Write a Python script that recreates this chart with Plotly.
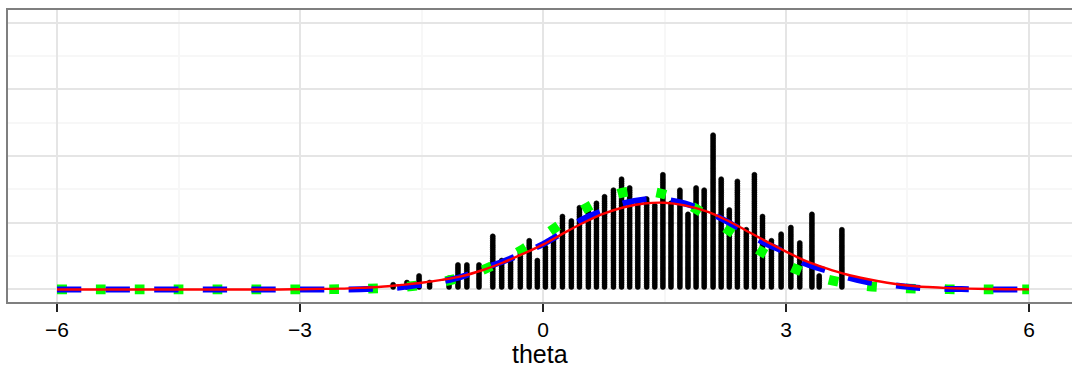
import plotly.graph_objects as go

# ---- data ----
# dot-plot columns: position (theta) and number of stacked dots
bin_theta = [-1.85, -1.68, -1.53, -1.40, -1.16, -1.05, -0.94, -0.79, -0.62, -0.51,
             -0.40, -0.28, -0.17, -0.07, 0.03, 0.13, 0.24, 0.35, 0.45, 0.56,
             0.66, 0.76, 0.87, 0.97, 1.07, 1.17, 1.28, 1.38, 1.48, 1.58,
             1.69, 1.79, 1.89, 1.99, 2.10, 2.20, 2.30, 2.40, 2.51, 2.61,
             2.71, 2.82, 2.94, 3.06, 3.17, 3.32, 3.41, 3.69]
bin_count = [2, 3, 6, 3, 5, 11, 11, 11, 24, 13,
             13, 17, 22, 13, 19, 23, 33, 31, 37, 36,
             39, 42, 45, 50, 46, 39, 41, 38, 52, 39,
             45, 34, 46, 45, 70, 50, 36, 49, 27, 52,
             33, 22, 25, 28, 21, 34, 6, 27]

# density curves on a theta grid
grid = [-6 + 0.25 * i for i in range(49)]
red_density = [0, 0, 0, 0, 0, 0, 0, 0, 0, 0,
               0, 0, 0.001, 0.002, 0.003, 0.006, 0.010, 0.017, 0.025, 0.036,
               0.050, 0.072, 0.100, 0.133, 0.168, 0.210, 0.250, 0.284, 0.308, 0.322,
               0.325, 0.315, 0.294, 0.262, 0.222, 0.181, 0.142, 0.106, 0.079, 0.056,
               0.039, 0.025, 0.015, 0.009, 0.005, 0.003, 0.0015, 0.0008, 0.0004]
blue_density = [0, 0, 0, 0, 0, 0, 0, 0, 0, 0,
                0, 0, 0, 0, 0, 0.001, 0.004, 0.008, 0.018, 0.030,
                0.048, 0.078, 0.104, 0.135, 0.170, 0.215, 0.265, 0.295, 0.323, 0.337,
                0.337, 0.322, 0.295, 0.258, 0.215, 0.172, 0.138, 0.095, 0.071, 0.046,
                0.028, 0.019, 0.010, 0.004, 0.002, 0.001, 0, 0, 0]
green_density = [0, 0, 0, 0, 0, 0, 0, 0, 0, 0,
                 0, 0, 0.0003, 0.0005, 0.001, 0.0022, 0.0046, 0.0089, 0.0163, 0.0282,
                 0.0465, 0.0725, 0.1072, 0.1503, 0.1996, 0.2513, 0.2999, 0.3392, 0.3637, 0.3696,
                 0.356, 0.325, 0.2812, 0.2307, 0.1793, 0.1321, 0.0923, 0.0611, 0.0383, 0.0228,
                 0.0128, 0.0069, 0.0035, 0.0017, 0.0008, 0.0003, 0, 0, 0]

x_ticks = [-6, -3, 0, 3, 6]
x_title = "theta"

# ---- stacking of dots (dot plot) ----
dot_r = 0.0094      # dot radius in y units
dot_step = 0.00824  # stacking step in y units
dx, dy = [], []
for t, c in zip(bin_theta, bin_count):
    for i in range(c):
        dx.append(t)
        dy.append(dot_r + i * dot_step)

FONT = "Liberation Sans, Arial, Helvetica, sans-serif"

fig = go.Figure()
fig.add_trace(go.Scatter(x=dx, y=dy, mode="markers",
                         marker=dict(size=5, color="black", line=dict(width=0.6, color="black")),
                         hoverinfo="skip", showlegend=False))
fig.add_trace(go.Scatter(x=grid, y=green_density, mode="lines",
                         line=dict(color="#00FF00", width=9.7, dash="9.7px,29.2px", shape="spline"),
                         showlegend=False))
fig.add_trace(go.Scatter(x=grid, y=blue_density, mode="lines",
                         line=dict(color="#0000FF", width=6, dash="24.3px,24.3px", shape="spline"),
                         showlegend=False))
fig.add_trace(go.Scatter(x=grid, y=red_density, mode="lines",
                         line=dict(color="#FF0000", width=2.4, shape="spline"),
                         showlegend=False))

fig.update_layout(
    width=1072, height=368,
    margin=dict(l=8, r=0, t=10, b=66),
    paper_bgcolor="white", plot_bgcolor="white",
    font=dict(family=FONT, color="black"),
    showlegend=False,
    xaxis=dict(range=[-6.605, 6.531], tickmode="array", tickvals=x_ticks,
               ticktext=["\u2212" + str(-v) if v < 0 else str(v) for v in x_ticks],
               ticks="outside", ticklen=8, tickwidth=2, tickcolor="#222222",
               tickfont=dict(size=21, color="black", family=FONT),
               showgrid=True, gridcolor="#E5E5E5", gridwidth=1.5,
               minor=dict(tickvals=[-4.5, -1.5, 1.5, 4.5], showgrid=True,
                          gridcolor="#F7F7F7", gridwidth=1.5, ticks=""),
               zeroline=False, showline=True, linecolor="#7F7F7F", linewidth=2, mirror=True),
    yaxis=dict(range=[-0.047, 1.047], tickmode="array", tickvals=[0, 0.25, 0.5, 0.75, 1.0],
               showticklabels=False, ticks="",
               showgrid=True, gridcolor="#E5E5E5", gridwidth=1.5,
               minor=dict(tickvals=[0.125, 0.375, 0.625, 0.875], showgrid=True,
                          gridcolor="#F7F7F7", gridwidth=1.5, ticks=""),
               zeroline=False, showline=True, linecolor="#7F7F7F", linewidth=2, mirror=False),
    annotations=[dict(text=x_title, x=0.5, xref="paper", y=-0.178, yref="paper",
                      xanchor="center", yanchor="middle", showarrow=False,
                      font=dict(size=25, color="black", family=FONT))],
)

fig.write_html("out.html")
